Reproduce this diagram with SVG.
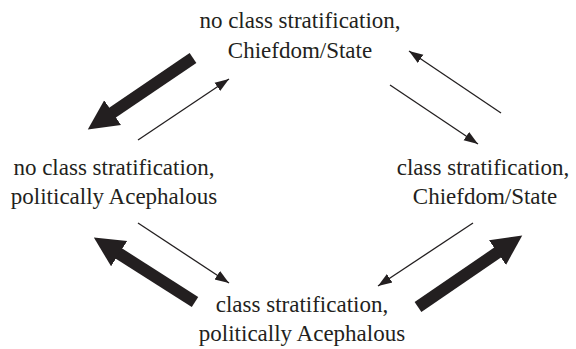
<svg xmlns="http://www.w3.org/2000/svg" width="576" height="349" viewBox="0 0 576 349">
<style>
text{font-family:"Liberation Serif","Times New Roman",serif;font-size:23px;fill:#231f20;text-anchor:middle}
.thin{stroke:#231f20;stroke-width:1.3;fill:none;marker-end:url(#th)}
.thick{stroke:#231f20;stroke-width:12;fill:none;marker-end:url(#tk)}
</style>
<defs>
<marker id="th" markerUnits="userSpaceOnUse" markerWidth="16" markerHeight="12" refX="14" refY="6" orient="auto" viewBox="0 0 16 12"><path d="M0,1 L14,6 L0,11 z" fill="#231f20"/></marker>
<marker id="tk" markerUnits="userSpaceOnUse" markerWidth="32" markerHeight="32" refX="1" refY="16" orient="auto" viewBox="0 0 32 32"><path d="M0,1 L30,16 L0,31 z" fill="#231f20"/></marker>
</defs>
<g id="n-top"><text x="300" y="28">no class stratification,</text><text x="300" y="58">Chiefdom/State</text></g>
<g id="n-left"><text x="114" y="175">no class stratification,</text><text x="114" y="204">politically Acephalous</text></g>
<g id="n-right"><text x="483" y="175">class stratification,</text><text x="485" y="204">Chiefdom/State</text></g>
<g id="n-bottom"><text x="302" y="312">class stratification,</text><text x="302" y="341">politically Acephalous</text></g>
<g id="connectors">
<line class="thick" x1="193" y1="58" x2="111.8" y2="113.1"/>
<line class="thick" x1="195" y1="302" x2="118.3" y2="253.1"/>
<line class="thick" x1="418" y1="307" x2="498.3" y2="252"/>
<line class="thin" x1="138" y1="140" x2="229" y2="79"/>
<line class="thin" x1="501" y1="113" x2="409" y2="51"/>
<line class="thin" x1="390" y1="85" x2="478" y2="144"/>
<line class="thin" x1="138" y1="223" x2="229" y2="283"/>
<line class="thin" x1="473" y1="223" x2="378" y2="286"/>
</g>
</svg>
